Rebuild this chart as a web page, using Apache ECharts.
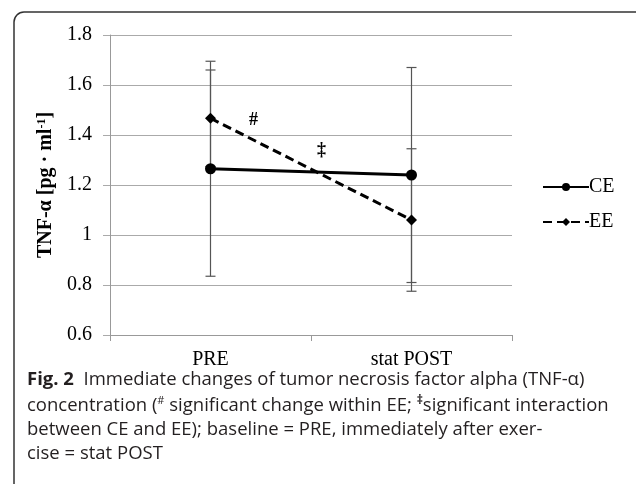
<!DOCTYPE html>
<html><head><meta charset="utf-8">
<script src="https://cdn.jsdelivr.net/npm/echarts@6/dist/echarts.min.js"></script>
<style>html,body{margin:0;padding:0;background:#fff}#c{width:636px;height:484px}</style>
</head><body><div id="c"></div>
<script>
const categories = ['PRE', 'stat POST'];
const ceMean = [1.265, 1.24];
const eeMean = [1.467, 1.06];
const ceHigh = [1.695, 1.67];
const ceLow = [0.835, 0.81];
const eeHigh = [1.66, 1.345];
const eeLow = [1.274, 0.775];
const yTicks = [0.6, 0.8, 1, 1.2, 1.4, 1.6, 1.8];

const chart = echarts.init(document.getElementById('c'));
const serif = '"Liberation Serif", "Times New Roman", serif';
const sans = '"Open Sans", "Noto Sans", sans-serif';
const capSize = 18.5;

function errData(hi, lo) { return categories.map((c, i) => [i, lo[i], hi[i]]); }
function errRender(params, api) {
  const x = api.value(0);
  const lo = api.coord([x, api.value(1)]);
  const hi = api.coord([x, api.value(2)]);
  const w = 5;
  const st = { stroke: '#555', lineWidth: 1.2 };
  return { type: 'group', children: [
    { type: 'line', shape: { x1: hi[0], y1: hi[1], x2: lo[0], y2: lo[1] }, style: st },
    { type: 'line', shape: { x1: hi[0] - w, y1: hi[1], x2: hi[0] + w, y2: hi[1] }, style: st },
    { type: 'line', shape: { x1: lo[0] - w, y1: lo[1], x2: lo[0] + w, y2: lo[1] }, style: st }
  ]};
}

chart.setOption({
  animation: false,
  graphic: [
    { type: 'rect', shape: { x: 14, y: 12, width: 640, height: 500, r: 10 }, style: { fill: 'none', stroke: '#333', lineWidth: 1.5 }, z: 100 },
    { type: 'text', left: 249, top: 111, style: { text: '#', font: 'bold 18px ' + serif, fill: '#000' } },
    { type: 'text', left: 317, top: 141, style: { text: '‡', font: 'bold 18px ' + serif, fill: '#000' } },
    { type: 'text', left: 27, top: 370, style: {
      rich: { b: { fontFamily: sans, fontWeight: 'bold', fontSize: capSize, fill: '#231f20' }, n: { fontFamily: sans, fontSize: capSize, fill: '#231f20' } },
      text: '{b|Fig. 2}{n|  Immediate changes of tumor necrosis factor alpha (TNF-α)}'
    } },
    { type: 'text', left: 27, top: 395, style: {
      rich: { n: { fontFamily: sans, fontSize: capSize, fill: '#231f20' }, s: { fontFamily: sans, fontSize: 11, fill: '#231f20', padding: [0, 0, 9, 0] }, sb: { fontFamily: sans, fontSize: 12, fontWeight: 'bold', fill: '#231f20', padding: [0, 0, 9, 0] } },
      text: '{n|concentration (}{s|#}{n| significant change within EE; }{sb|‡}{n|significant interaction}'
    } },
    { type: 'text', left: 27, top: 420, style: { text: 'between CE and EE); baseline = PRE, immediately after exer-', font: capSize + 'px ' + sans, fill: '#231f20' } },
    { type: 'text', left: 27, top: 444, style: { text: 'cise = stat POST', font: capSize + 'px ' + sans, fill: '#231f20' } }
  ],
  grid: { left: 110, right: 124, top: 35, bottom: 149 },
  legend: {
    orient: 'vertical', left: 537, top: 172, itemWidth: 46, itemHeight: 10, itemGap: 15,
    textStyle: { fontFamily: serif, fontSize: 20, color: '#000', padding: [0, 0, 0, -5] },
    data: ['CE', 'EE']
  },
  xAxis: {
    type: 'category', data: categories, boundaryGap: true,
    axisLine: { lineStyle: { color: '#999' } },
    axisTick: { show: true, length: 6, lineStyle: { color: '#999' } },
    axisLabel: { fontFamily: serif, fontSize: 20, color: '#000', margin: 15 }
  },
  yAxis: {
    type: 'value', min: 0.6, max: 1.8, interval: 0.2,
    axisLine: { show: true, lineStyle: { color: '#999' } },
    axisTick: { show: true, length: 7, lineStyle: { color: '#aaa' } },
    splitLine: { lineStyle: { color: '#aaa' } },
    axisLabel: { fontFamily: serif, fontSize: 20, color: '#000', margin: 18, formatter: v => String(Math.round(v * 10) / 10) },
    name: '{a|TNF-α [pg · ml}{s|-1}{a|]}', nameLocation: 'middle', nameGap: 52, nameRotate: 90,
    nameTextStyle: { rich: {
      a: { fontFamily: serif, fontWeight: 'bold', fontSize: 20, color: '#000' },
      s: { fontFamily: serif, fontWeight: 'bold', fontSize: 12, color: '#000', padding: [0, 0, 9, 0] }
    } }
  },
  series: [
    { type: 'custom', name: 'errCE', renderItem: errRender, data: errData(ceHigh, ceLow), z: 1, silent: true },
    { type: 'custom', name: 'errEE', renderItem: errRender, data: errData(eeHigh, eeLow), z: 1, silent: true },
    { type: 'line', name: 'CE', data: ceMean, symbol: 'circle', symbolSize: 11, z: 5,
      lineStyle: { color: '#000', width: 3 }, itemStyle: { color: '#000' } },
    { type: 'line', name: 'EE', data: eeMean, symbol: 'diamond', symbolSize: 11, z: 5,
      lineStyle: { color: '#000', width: 3, type: [9, 5] }, itemStyle: { color: '#000' } }
  ]
});
</script></body></html>
